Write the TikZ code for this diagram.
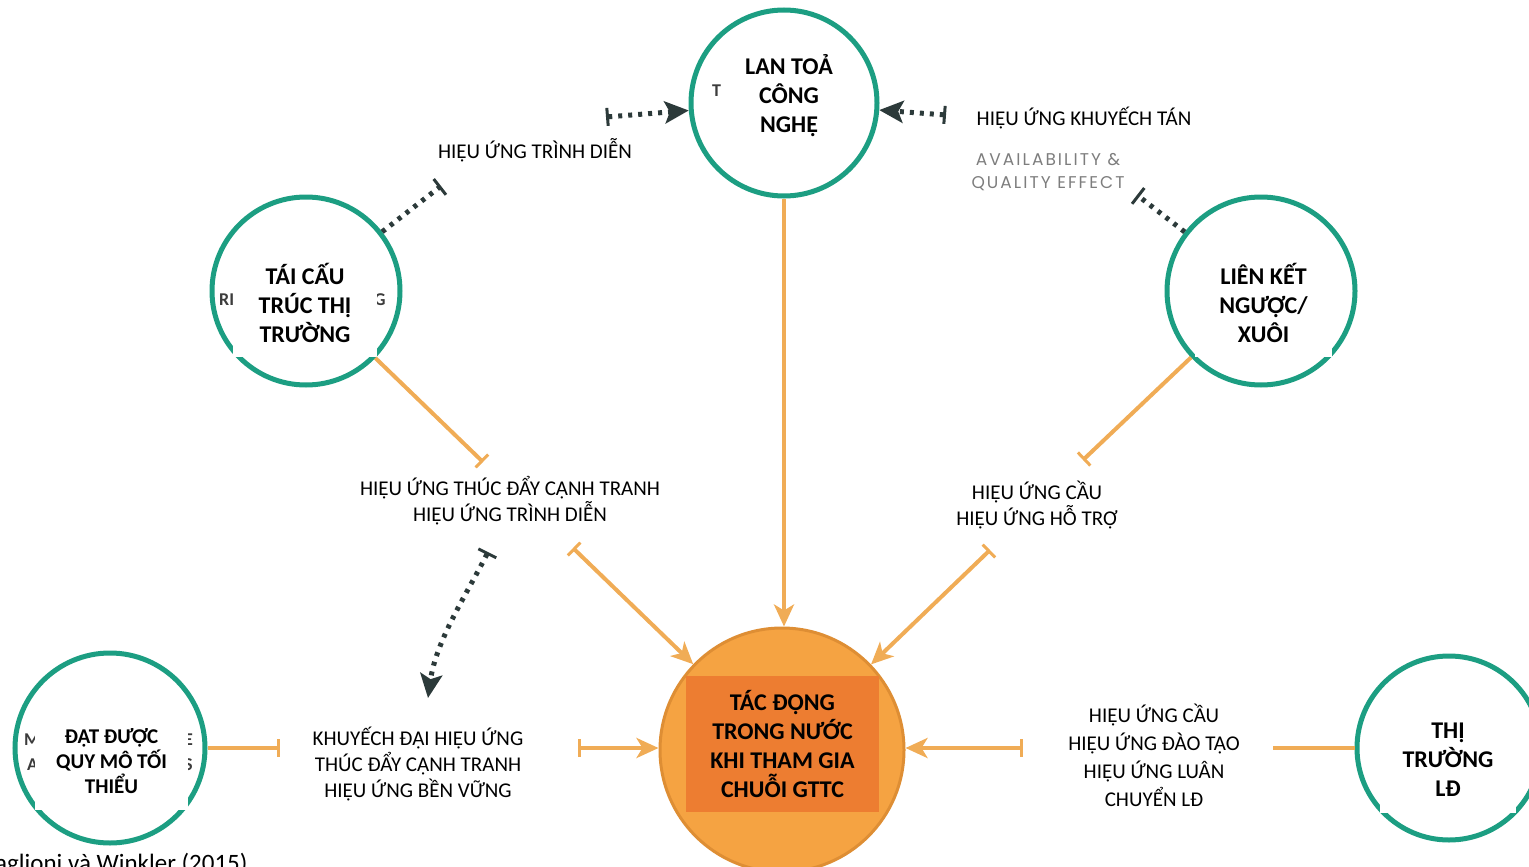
\documentclass[tikz,border=0pt]{standalone}
\usepackage{fontspec}
\setmainfont{Carlito}
\newfontfamily\graysans[LetterSpace=12]{Poppins}
\usetikzlibrary{arrows.meta}
\definecolor{ringc}{RGB}{28,158,130}
\definecolor{oline}{RGB}{240,172,86}
\definecolor{ofill}{RGB}{245,163,66}
\definecolor{oborder}{RGB}{222,142,52}
\definecolor{obox}{RGB}{237,125,49}
\definecolor{dline}{RGB}{44,58,58}
\definecolor{frag}{RGB}{60,60,60}
\definecolor{graytxt}{RGB}{125,125,125}
\tikzset{
  ring/.style={circle, draw=ringc, line width=5pt, fill=white, inner sep=0pt},
  wbox/.style={rectangle, fill=white, inner sep=0pt, align=center, font=\bfseries\fontsize{24}{29}\selectfont},
  lbl/.style={align=center, font=\fontsize{21}{26}\selectfont, inner sep=0pt},
  fragtxt/.style={text=frag, font=\bfseries\fontsize{18}{20}\selectfont, inner sep=0pt},
  oarrow/.style={draw=oline, line width=4pt, -{Stealth[length=22pt,width=20pt,inset=6pt]}},
  obar/.style={draw=oline, line width=4pt},
  darrow/.style={draw=dline, line width=5pt, dash pattern=on 4pt off 6pt},
}
\begin{document}
\begin{tikzpicture}[x=1pt,y=-1pt]
\useasboundingbox (0,0) rectangle (1529,867);

% circles
\node[ring, minimum size=186pt] (top) at (784,103) {};
\node[ring, minimum size=188pt] (left) at (306,291) {};
\node[ring, minimum size=188pt] (right) at (1261,291) {};
\node[ring, minimum size=190pt] (bl) at (110,748) {};
\node[ring, minimum size=184pt] (br) at (1449,748) {};
\node[circle, draw=oborder, line width=3pt, fill=ofill, minimum size=244pt, inner sep=0pt] (ctr) at (782,750) {};

% leftover fragments
\node[fragtxt, anchor=west] (f1) at (712,91) {T};
\node[fragtxt, anchor=west] (f2) at (219,300) {RI};
\node[fragtxt, anchor=west] (f3) at (374,300) {G};
\node[fragtxt, anchor=west] (f4) at (24,740) {M};
\node[fragtxt, anchor=west] (f5) at (27,765) {A};
\node[fragtxt, anchor=west] (f6) at (184,740) {E};
\node[fragtxt, anchor=west] (f7) at (184,765) {S};

% label boxes
\node[wbox, minimum width=127pt, minimum height=108pt] (topB) at (785.5,96) {};
\node[wbox, fill=none] (topT) at (789,96) {LAN TOẢ\\CÔNG\\NGHỆ};
\node[wbox, minimum width=144pt, minimum height=108pt] (leftT) at (305,303) {TÁI CẤU\\TRÚC THỊ\\TRƯỜNG};
\node[wbox, minimum width=137pt, minimum height=108pt] (rightT) at (1263.5,303) {LIÊN KẾT\\NGƯỢC/\\XUÔI};
\node[wbox, minimum width=153pt, minimum height=98pt, font=\bfseries\fontsize{21}{25}\selectfont] (blT) at (111.5,761) {ĐẠT ĐƯỢC\\QUY MÔ TỐI\\THIỂU};
\node[wbox, minimum width=136pt, minimum height=106pt] (brT) at (1448,760) {THỊ\\TRƯỜNG\\LĐ};
\node[wbox, fill=obox, minimum width=193pt, minimum height=136pt] (ctrT) at (782.5,744) {TÁC ĐỘNG\\TRONG NƯỚC\\KHI THAM GIA\\CHUỖI GTTC};

% text labels
\node[lbl] (t1) at (535,150) {HIỆU ỨNG TRÌNH DIỄN};
\node[lbl] (t2) at (1084,118) {HIỆU ỨNG KHUYẾCH TÁN};
\node[align=center, inner sep=0pt, text=graytxt, font=\graysans\fontsize{17}{23}\selectfont] (t3) at (1048,172) {AVAILABILITY \&\\QUALITY EFFECT};
\node[lbl] (t4) at (510,501) {HIỆU ỨNG THÚC ĐẨY CẠNH TRANH\\HIỆU ỨNG TRÌNH DIỄN};
\node[lbl] (t5) at (1037,505) {HIỆU ỨNG CẦU\\HIỆU ỨNG HỖ TRỢ};
\node[lbl] (t6) at (418,764) {KHUYẾCH ĐẠI HIỆU ỨNG\\THÚC ĐẨY CẠNH TRANH\\HIỆU ỨNG BỀN VỮNG};
\node[lbl, font=\fontsize{21}{28}\selectfont] (t7) at (1154,755) {HIỆU ỨNG CẦU\\HIỆU ỨNG ĐÀO TẠO\\HIỆU ỨNG LUÂN\\CHUYỂN LĐ};
\node[anchor=base west, inner sep=0pt, font=\fontsize{25}{30}\selectfont] (src) at (-5,871) {aglioni và Winkler (2015)};

% coordinates for free ends
\coordinate (cL) at (483,462);
\coordinate (cR) at (1083,460);
\coordinate (b4) at (573,548);
\coordinate (b5) at (990,550);
\coordinate (cBL) at (280,748);
\coordinate (b7) at (578,748);
\coordinate (b8) at (1023,748);
\coordinate (cBR) at (1273,748);
\coordinate (d1) at (606,117);
\coordinate (d2) at (946,115);
\coordinate (d3) at (441,186);
\coordinate (d4) at (1137,195);
\coordinate (e1) at (488,552);
\coordinate (e2) at (428,698);

% orange connectors
\draw[oarrow] (top) -- (top |- ctr.north);
\draw[obar, -{Bar[width=18pt,line width=3pt]}] (left) -- (cL);
\draw[obar, -{Bar[width=18pt,line width=3pt]}] (right) -- (cR);
\draw[oarrow, {Bar[width=18pt,line width=3pt]}-{Stealth[length=22pt,width=20pt,inset=6pt]}] (b4) -- (ctr);
\draw[oarrow, {Bar[width=18pt,line width=3pt]}-{Stealth[length=22pt,width=20pt,inset=6pt]}] (b5) -- (ctr);
\draw[obar, -{Bar[width=18pt,line width=3pt]}] (bl) -- (cBL);
\draw[oarrow, {Bar[width=18pt,line width=3pt]}-{Stealth[length=22pt,width=20pt,inset=6pt]}] (b7) -- (b7 -| ctr.west);
\draw[oarrow, {Bar[width=18pt,line width=3pt]}-{Stealth[length=22pt,width=20pt,inset=6pt]}] (b8) -- (b8 -| ctr.east);
\draw[obar] (br) -- (cBR);

% dark dotted connectors
\draw[darrow, {Bar[width=18pt,line width=3pt]}-{Stealth[length=24pt,width=22pt,inset=5pt]}] (d1) -- (top);
\draw[darrow, {Bar[width=18pt,line width=3pt]}-{Stealth[length=24pt,width=22pt,inset=5pt]}] (d2) -- (top);
\draw[darrow, -{Bar[width=20pt,line width=3pt]}] (left) -- (d3);
\draw[darrow, -{Bar[width=20pt,line width=3pt]}] (right) -- (d4);
\draw[darrow, {Bar[width=20pt,line width=3pt]}-{Stealth[length=24pt,width=22pt,inset=5pt]}] (e1) .. controls (468,592) and (436,640) .. (e2);
\end{tikzpicture}
\end{document}
